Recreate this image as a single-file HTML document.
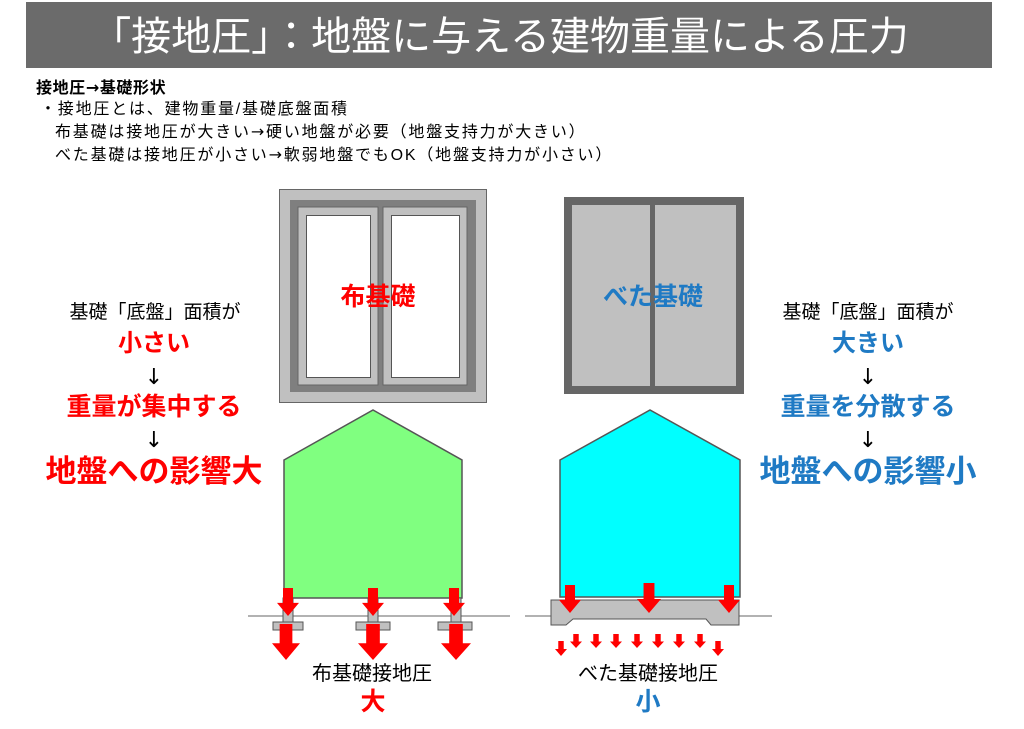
<!DOCTYPE html>
<html><head><meta charset="utf-8"><style>
body{margin:0;width:1024px;height:724px;background:#fff;overflow:hidden;font-family:"Liberation Sans","Noto Sans CJK JP",sans-serif;}
</style></head><body>
<svg width="1024" height="724" xmlns="http://www.w3.org/2000/svg" font-family="Liberation Sans, Noto Sans CJK JP, sans-serif">
<defs>
<symbol id="ar" viewBox="0 0 22 30" preserveAspectRatio="none"><polygon points="6,0 16,0 16,16 22,16 11,30 0,16 6,16" fill="#ff0000"/></symbol>
</defs>
<rect x="26" y="2" width="966" height="66" fill="#6b6b6b"/>
<text x="500" y="50" font-size="40" fill="#fff" text-anchor="middle">「接地圧」：地盤に与える建物重量による圧力</text>
<g font-size="16" fill="#000" letter-spacing="1.8">
<text x="36" y="93" font-weight="bold" letter-spacing="0.6">接地圧<tspan font-family="DejaVu Sans">→</tspan>基礎形状</text>
<text x="40" y="114">・接地圧とは、建物重量/基礎底盤面積</text>
<text x="55" y="137">布基礎は接地圧が大きい<tspan font-family="DejaVu Sans">→</tspan>硬い地盤が必要（地盤支持力が大きい）</text>
<text x="55" y="160">べた基礎は接地圧が小さい<tspan font-family="DejaVu Sans">→</tspan>軟弱地盤でもOK（地盤支持力が小さい）</text>
</g>
<!-- left plan -->
<rect x="279.5" y="189.5" width="207" height="213" fill="#c0c0c0" stroke="#666"/>
<rect x="290" y="200" width="186" height="192" fill="#7f7f7f"/>
<rect x="298" y="207" width="80" height="178" fill="#c0c0c0" stroke="#666"/>
<rect x="383" y="207" width="84" height="178" fill="#c0c0c0" stroke="#666"/>
<rect x="306.5" y="215.5" width="64" height="162" fill="#fff" stroke="#555"/>
<rect x="391.5" y="215.5" width="68" height="162" fill="#fff" stroke="#555"/>
<text x="378" y="305" font-size="25" font-weight="bold" fill="#ff0000" text-anchor="middle">布基礎</text>
<!-- right plan -->
<rect x="564" y="197" width="180" height="197" fill="#666"/>
<rect x="572" y="205" width="164" height="181" fill="#c0c0c0"/>
<rect x="650" y="205" width="5" height="181" fill="#666"/>
<text x="653" y="305" font-size="25" font-weight="bold" fill="#1f7ac4" text-anchor="middle">べた基礎</text>
<!-- houses -->
<polygon points="284,460 373,410 462,460 462,598 284,598" fill="#80ff80" stroke="#555" stroke-width="1.5"/>
<polygon points="560,460 650,410 740,460 740,597 560,597" fill="#00ffff" stroke="#555" stroke-width="1.5"/>
<!-- ground -->
<line x1="248" y1="616" x2="510" y2="616" stroke="#999" stroke-width="1.5"/>
<line x1="525" y1="616" x2="772" y2="616" stroke="#999" stroke-width="1.5"/>
<!-- left footings -->
<g fill="#c0c0c0" stroke="#555">
<rect x="283" y="598" width="10" height="24"/><rect x="273" y="622" width="30" height="8"/>
<rect x="368" y="598" width="10" height="24"/><rect x="356" y="622" width="34" height="8"/>
<rect x="451" y="598" width="10" height="24"/><rect x="438" y="622" width="34" height="8"/>
</g>
<use href="#ar" x="277" y="588" width="22" height="28"/>
<use href="#ar" x="362" y="588" width="22" height="28"/>
<use href="#ar" x="443" y="588" width="22" height="28"/>
<use href="#ar" x="272" y="624" width="28" height="36"/>
<use href="#ar" x="358" y="624" width="30" height="36"/>
<use href="#ar" x="441" y="624" width="30" height="36"/>
<!-- right slab -->
<polygon points="551,600 739,600 739,625 711,625 706,619 573,619 566,625 551,625" fill="#c0c0c0" stroke="#555"/>
<use href="#ar" x="559" y="585" width="22" height="28"/>
<use href="#ar" x="637" y="583" width="24" height="30"/>
<use href="#ar" x="718" y="585" width="22" height="28"/>
<g>
<use href="#ar" x="555" y="641" width="12" height="15"/>
<use href="#ar" x="570" y="634" width="12" height="14"/>
<use href="#ar" x="590" y="634" width="12" height="14"/>
<use href="#ar" x="610" y="634" width="12" height="14"/>
<use href="#ar" x="631" y="634" width="12" height="14"/>
<use href="#ar" x="652" y="634" width="12" height="14"/>
<use href="#ar" x="673" y="634" width="12" height="14"/>
<use href="#ar" x="694" y="634" width="12" height="14"/>
<use href="#ar" x="712" y="641" width="12" height="15"/>
</g>
<text x="372" y="680" font-size="20" text-anchor="middle">布基礎接地圧</text>
<text x="373" y="710" font-size="25" font-weight="bold" fill="#ff0000" text-anchor="middle">大</text>
<text x="648" y="680" font-size="20" text-anchor="middle">べた基礎接地圧</text>
<text x="648" y="710" font-size="25" font-weight="bold" fill="#1f7ac4" text-anchor="middle">小</text>
<!-- sides -->
<g text-anchor="middle">
<text x="155" y="318" font-size="19">基礎「底盤」面積が</text>
<text x="154" y="351" font-size="24" font-weight="bold" fill="#ff0000">小さい</text>
<text x="154" y="384" font-size="22" font-family="DejaVu Sans">↓</text>
<text x="154" y="415" font-size="25" font-weight="bold" fill="#ff0000">重量が集中する</text>
<text x="154" y="447" font-size="22" font-family="DejaVu Sans">↓</text>
<text x="154" y="482" font-size="31" font-weight="bold" fill="#ff0000">地盤への影響大</text>
<text x="868" y="318" font-size="19">基礎「底盤」面積が</text>
<text x="868" y="351" font-size="24" font-weight="bold" fill="#1f7ac4">大きい</text>
<text x="868" y="384" font-size="22" font-family="DejaVu Sans">↓</text>
<text x="868" y="415" font-size="25" font-weight="bold" fill="#1f7ac4">重量を分散する</text>
<text x="868" y="447" font-size="22" font-family="DejaVu Sans">↓</text>
<text x="868" y="482" font-size="31" font-weight="bold" fill="#1f7ac4">地盤への影響小</text>
</g>
</svg>
</body></html>
